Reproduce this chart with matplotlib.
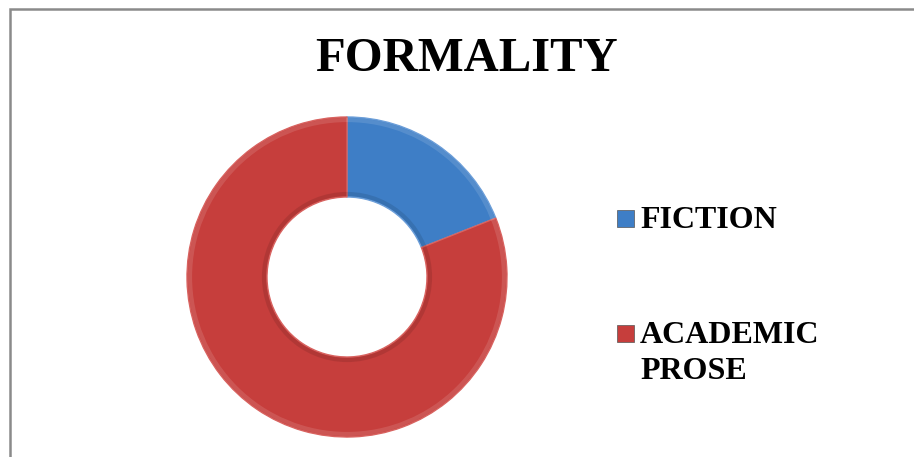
import matplotlib.pyplot as plt
from matplotlib.patches import Rectangle, Circle
import textwrap

categories = ["FICTION", "ACADEMIC PROSE"]
shares = [19, 81]
colors = ["#3E7EC6", "#C63E3C"]
edge_colors = ["#6C9ED8", "#D86360"]

plt.rcParams['font.family'] = ['Liberation Serif', 'DejaVu Serif']

fig = plt.figure(figsize=(9.14, 4.57), dpi=100)
ax = fig.add_axes([0, 0, 1, 1])

# chart frame (runs off the right and bottom edges)
ax.add_patch(Rectangle((10, -20), 930, 468, fill=False, ec='#8a8a8a', lw=1.8))

ax.text(466, 457 - 59, "FORMALITY", ha='center', va='center',
        fontsize=35, fontweight='bold')

cx, cy = 347, 457 - 277
wedges, _ = ax.pie(shares, colors=colors, startangle=90, counterclock=False,
                   center=(cx, cy), radius=160, frame=True,
                   wedgeprops=dict(width=80, linewidth=1.0))
for w, ec in zip(wedges, edge_colors):
    w.set_edgecolor(ec)

# soft bevel: light rim outside, shaded rim around the hole
ax.add_patch(Circle((cx, cy), 157, fill=False, ec='white', lw=3, alpha=0.12))
ax.add_patch(Circle((cx, cy), 83, fill=False, ec='black', lw=3, alpha=0.10))

ax.set_xlim(0, 914)
ax.set_ylim(0, 457)
ax.set_aspect('equal')
ax.axis('off')

# legend
legend_y = [457 - 218, 457 - 333]
for name, c, y in zip(categories, colors, legend_y):
    ax.add_patch(Rectangle((617, y - 9), 17, 17, fc=c, ec='#555555', lw=0.5))
    label = "\n".join(textwrap.wrap(name, 9))
    ax.text(640, y + 12, label, ha='left', va='top', fontsize=23,
            fontweight='bold', linespacing=1.3)

fig.savefig("out.png", dpi=100)
